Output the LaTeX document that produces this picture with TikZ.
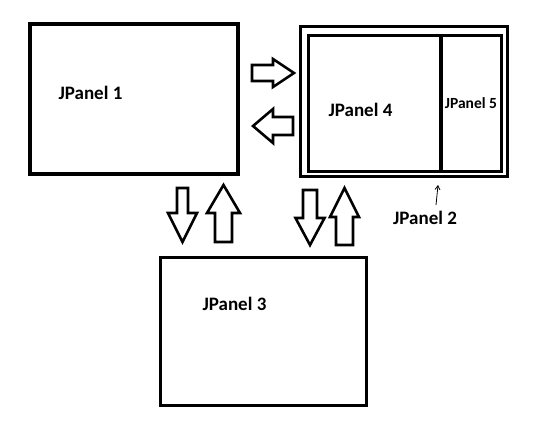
\documentclass[tikz,border=0pt]{standalone}
\usepackage{fontspec}
\setmainfont{Carlito}
\usetikzlibrary{arrows.meta,positioning}

% hollow block arrow: x, y, angle, length, head base, shaft half, head half
\newcommand{\blockarrow}[7]{%
  \begin{scope}[shift={(#1,#2)},rotate=#3]
    \draw[arrowline] (0,-#6) -- (#5,-#6) -- (#5,-#7) -- (#4,0) -- (#5,#7) -- (#5,#6) -- (0,#6) -- cycle;
  \end{scope}}

\begin{document}
\begin{tikzpicture}[x=1pt,y=-1pt,
  panel/.style={draw,line width=3.2pt,inner sep=0pt,minimum height=#1},
  lbl/.style={font=\bfseries\fontsize{19}{22}\selectfont,inner sep=0pt},
  arrowline/.style={draw,line width=2.6pt,line join=miter,fill=white}]
  \useasboundingbox (0,0) rectangle (540,425);

  % panels
  \node[panel=150,minimum width=208] (p1) at (134,99) {};
  \node[panel=150,minimum width=207] (p2) at (404,101.5) {};
  \node[panel=136,minimum width=132.5] (p4) at (374.75,103.5) {};
  \node[panel=136,minimum width=60.5] (p5) at (471.25,103.5) {};
  \node[panel=148,minimum width=206] (p3) at (263.5,331.5) {};

  % labels
  \node[lbl] (l1) at (90.5,93) {JPanel 1};
  \node[lbl] (l4) at (360.5,110) {JPanel 4};
  \node[lbl,font=\bfseries\fontsize{15.5}{18}\selectfont] (l5) at (471,103) {JPanel 5};
  \node[lbl] (l2) at (425,218) {JPanel 2};
  \node[lbl] (l3) at (234.5,304) {JPanel 3};

  % hand drawn pointer
  \coordinate (scribble) at (436,205);
  \coordinate (divfoot) at (438,185);
  \draw[line width=0.8pt,-{Straight Barb[length=4pt,width=5pt]}] (scribble) -- (divfoot);

  % block arrows
  \blockarrow{252}{73}{0}{42}{21}{8}{14}
  \blockarrow{293}{126}{180}{40}{20}{9}{17}
  \blockarrow{182.5}{188}{-90}{54}{25}{5.5}{14.5}
  \blockarrow{223.5}{242}{90}{57}{29}{8.5}{16.5}
  \blockarrow{310}{190}{-90}{55}{28}{7}{14.5}
  \blockarrow{344.5}{245}{90}{57}{28}{8.5}{14.5}
\end{tikzpicture}
\end{document}
